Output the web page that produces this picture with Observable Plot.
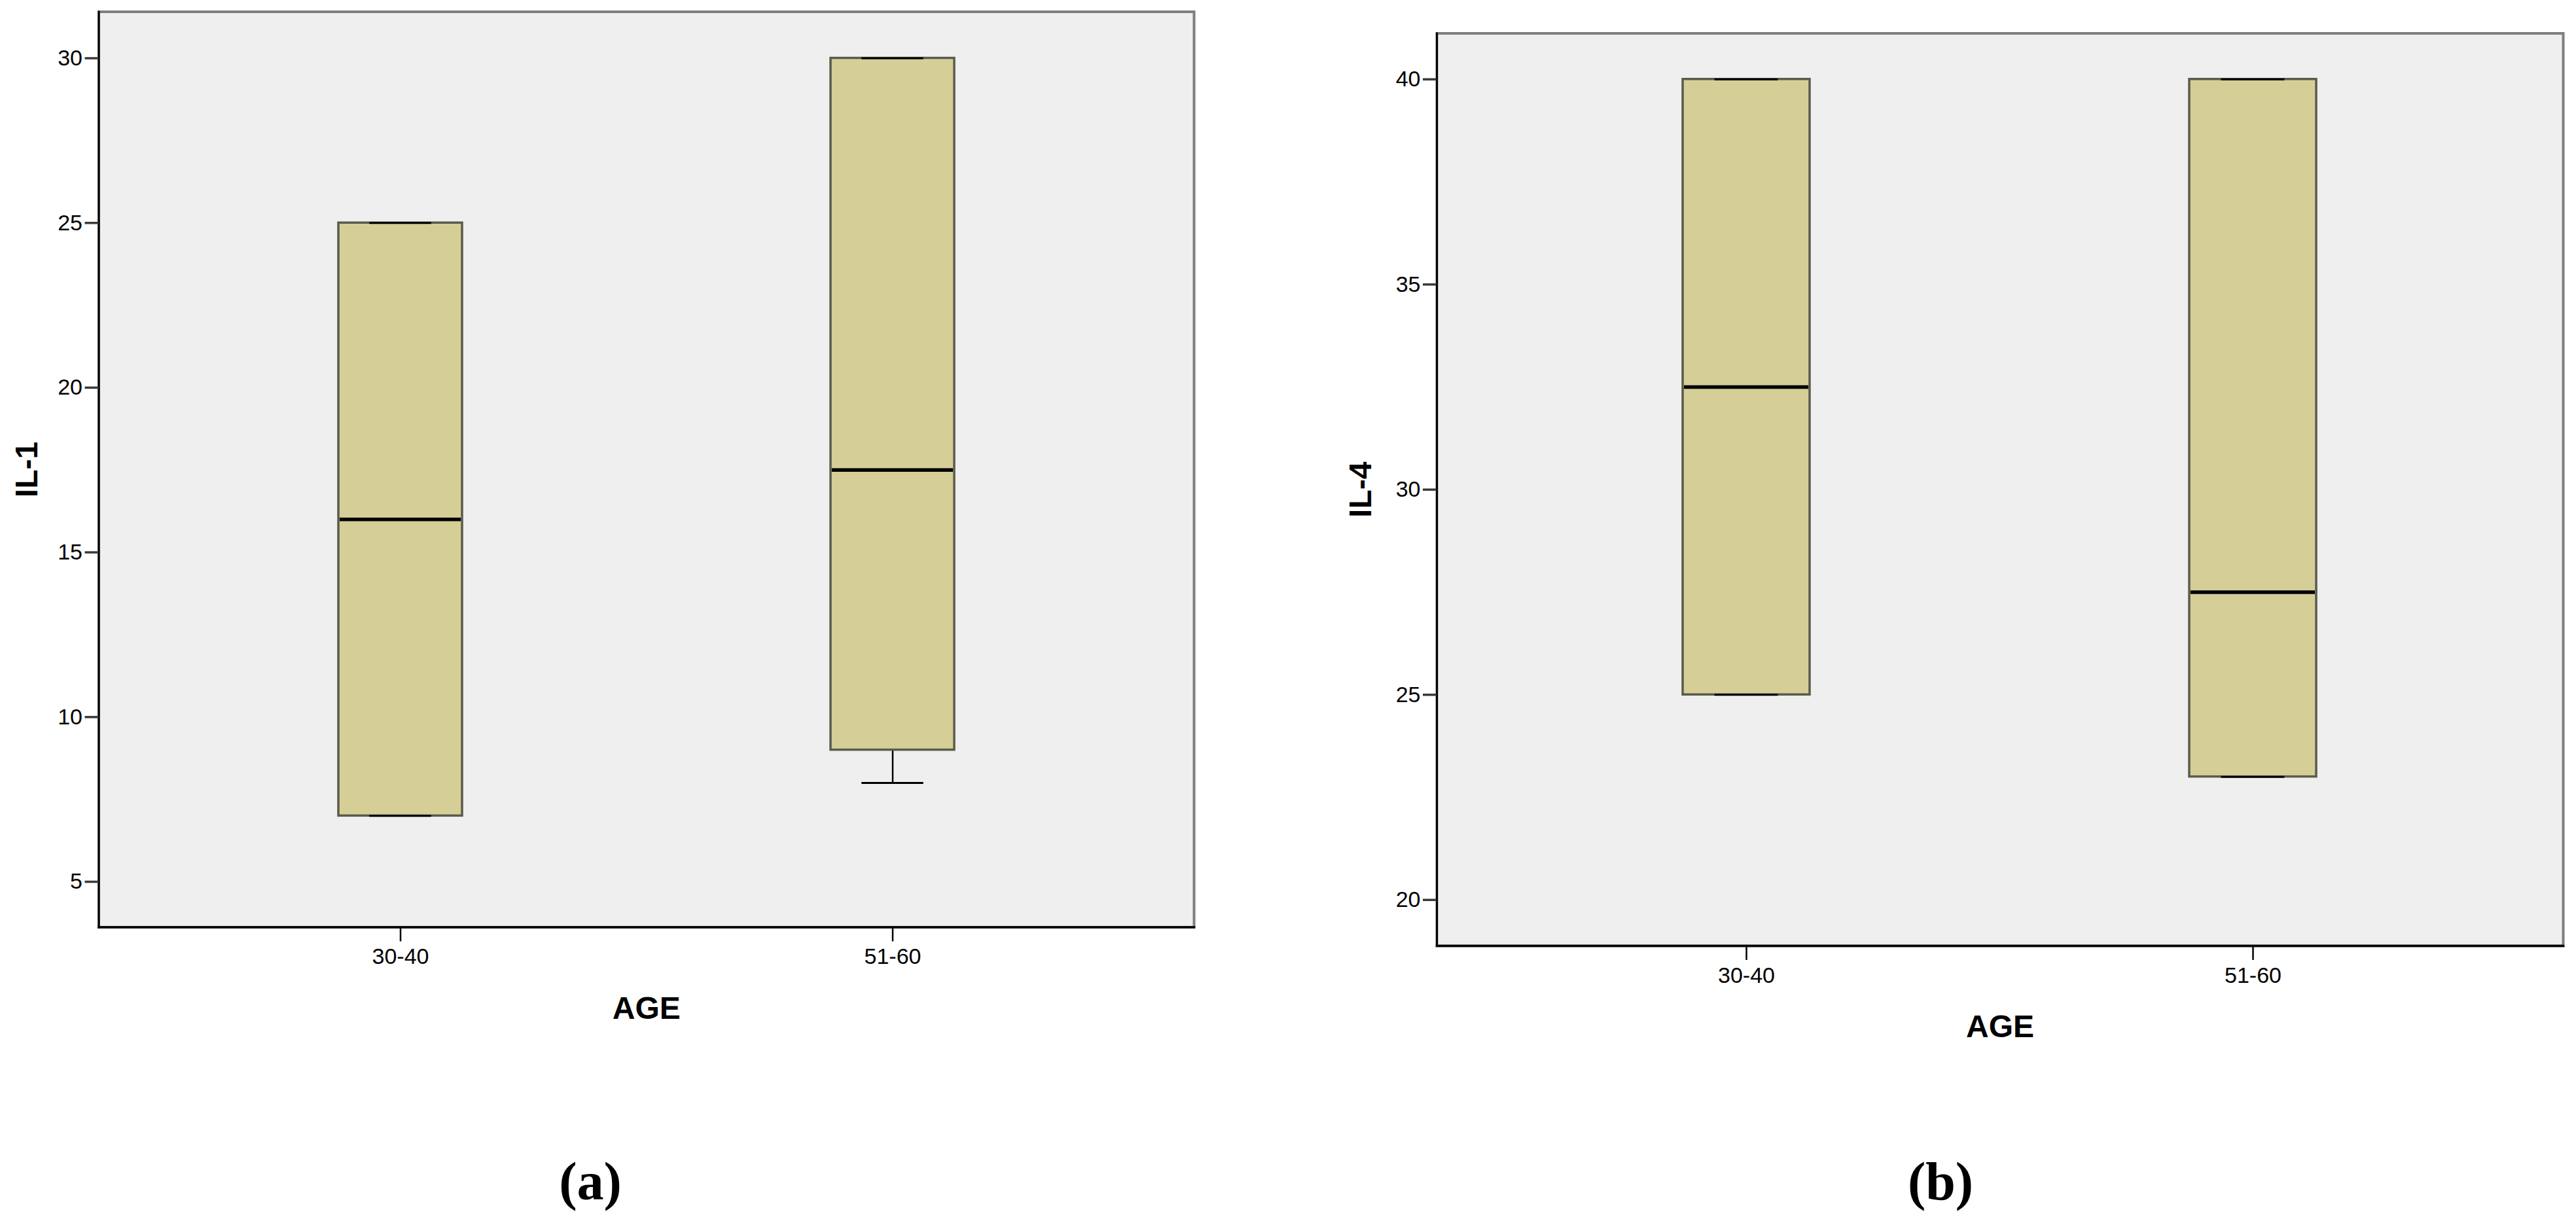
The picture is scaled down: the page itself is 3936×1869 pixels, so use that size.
<!DOCTYPE html>
<html><head><meta charset="utf-8">
<script src="https://cdn.jsdelivr.net/npm/d3@7"></script>
<script src="https://cdn.jsdelivr.net/npm/@observablehq/plot@0.6"></script>
<style>
html,body{margin:0;padding:0;background:#fff;}
#wrap{position:relative;width:3936px;height:1869px;overflow:hidden;background:#fff;}
.panel{position:absolute;top:0;}
.cap{position:absolute;top:1765px;font-family:"Liberation Serif","Times New Roman",serif;font-weight:bold;font-size:82px;line-height:1;transform:translateX(-50%);color:#000;}
</style></head><body><div id="wrap"></div>
<script>
// ---- data ----
const ages = ["30-40", "51-60"];
const il1Min = [7, 8];
const il1Q1 = [7, 9];
const il1Median = [16, 17.5];
const il1Q3 = [25, 30];
const il1Max = [25, 30];
const il1Ticks = [5, 10, 15, 20, 25, 30];
const il1Domain = [3.62, 31.41];

const il4Min = [25, 23];
const il4Q1 = [25, 23];
const il4Median = [32.5, 27.5];
const il4Q3 = [40, 40];
const il4Max = [40, 40];
const il4Ticks = [20, 25, 30, 35, 40];
const il4Domain = [18.88, 41.12];

function rows(mn, q1, md, q3, mx) {
  return ages.map((age, i) => ({age, min: mn[i], q1: q1[i], median: md[i], q3: q3[i], max: mx[i]}));
}

const tickFont = "'Liberation Sans Narrow','Arial Narrow','Liberation Sans',Arial,sans-serif";

function panel({data, yLabel, ticks, domain, width, height, mL, mR, mT, mB, yLabelOffset, xLabelOffset}) {
  const bw = (width - mL - mR) * 0.113;
  const capInset = bw / 4;
  return Plot.plot({
    width, height,
    marginLeft: mL, marginRight: mR, marginTop: mT, marginBottom: mB,
    style: {fontFamily: tickFont, background: "transparent", color: "#000"},
    x: {type: "band", domain: ages, paddingInner: 0.749, paddingOuter: 0.486},
    y: {domain},
    marks: [
      Plot.frame({fill: "#EFEFEF", stroke: null}),
      Plot.ruleX(data, {x: "age", y1: "q3", y2: "max", stroke: "#000", strokeWidth: 2.5}),
      Plot.ruleX(data, {x: "age", y1: "min", y2: "q1", stroke: "#000", strokeWidth: 2.5}),
      Plot.barY(data, {x: "age", y1: "q1", y2: "q3", fill: "#D5CF97", stroke: "#5b5a4c", strokeWidth: 3.5}),
      Plot.tickY(data, {x: "age", y: "max", stroke: "#000", strokeWidth: 3, insetLeft: capInset, insetRight: capInset}),
      Plot.tickY(data, {x: "age", y: "min", stroke: "#000", strokeWidth: 3, insetLeft: capInset, insetRight: capInset}),
      Plot.tickY(data, {x: "age", y: "median", stroke: "#000", strokeWidth: 5.5, insetLeft: 2, insetRight: 2}),
      Plot.frame({stroke: "#7f7f7f", strokeWidth: 4}),
      Plot.frame({anchor: "left", stroke: "#000", strokeWidth: 3}),
      Plot.frame({anchor: "bottom", stroke: "#000", strokeWidth: 3.5}),
      Plot.axisY(ticks, {tickSize: 21, tickPadding: 4, fontSize: 34, tickFormat: d => String(d), stroke: "#3a3a3a", strokeWidth: 3.5, label: null}),
      Plot.axisY([], {tickSize: 0, label: yLabel, labelAnchor: "center", labelArrow: "none", labelOffset: yLabelOffset, fontSize: 48, fontWeight: "bold", fontFamily: tickFont}),
      Plot.axisX({tickSize: 22, tickPadding: 10, fontSize: 34, stroke: "#000", strokeWidth: 2.5, label: null}),
      Plot.axisX([], {tickSize: 0, label: "AGE", labelAnchor: "center", labelArrow: "none", labelOffset: xLabelOffset, fontSize: 48, fontWeight: "bold", fontFamily: tickFont})
    ]
  });
}

const wrap = document.getElementById("wrap");

const left = panel({
  data: rows(il1Min, il1Q1, il1Median, il1Q3, il1Max),
  yLabel: "IL-1", ticks: il1Ticks, domain: il1Domain,
  width: 1968, height: 1620, mL: 150.5, mR: 144, mT: 17.5, mB: 203.5,
  yLabelOffset: 128, xLabelOffset: 139.5
});
left.classList.add("panel");
left.style.left = "0px";
wrap.appendChild(left);

const right = panel({
  data: rows(il4Min, il4Q1, il4Median, il4Q3, il4Max),
  yLabel: "IL-4", ticks: il4Ticks, domain: il4Domain,
  width: 1968, height: 1620, mL: 227, mR: 20, mT: 50.5, mB: 175,
  yLabelOffset: 135, xLabelOffset: 139
});
right.classList.add("panel");
right.style.left = "1968px";
wrap.appendChild(right);

for (const [t, x] of [["(a)", 902], ["(b)", 2965]]) {
  const d = document.createElement("div");
  d.className = "cap";
  d.style.left = x + "px";
  d.textContent = t;
  wrap.appendChild(d);
}
</script></body></html>
